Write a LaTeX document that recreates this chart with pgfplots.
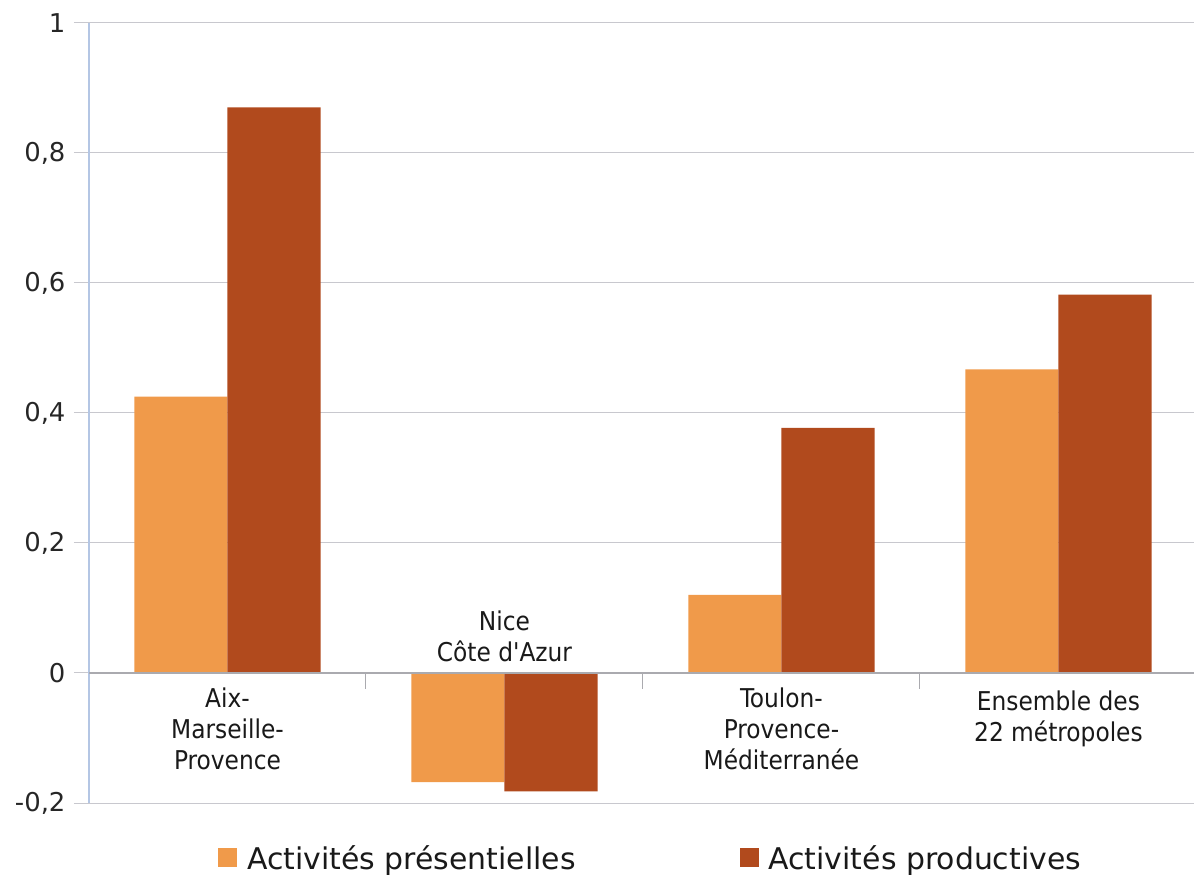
\documentclass[border=0pt]{standalone}
\usepackage{pgfplots}
\pgfplotsset{compat=1.18}
\usepackage{fontspec}
\setmainfont{DejaVu Sans}
\newfontfamily\condfont{DejaVu Sans Condensed}
\definecolor{cpres}{RGB}{240,154,74}
\definecolor{cprod}{RGB}{177,74,29}
\definecolor{gridc}{RGB}{200,200,206}
\definecolor{axc}{RGB}{180,198,228}
\definecolor{zeroc}{RGB}{170,170,175}
\begin{document}
\begin{tikzpicture}
\begin{axis}[name=ax, scale only axis, width=1108bp, height=780bp,
  xmin=-0.5, xmax=3.5, ymin=-0.2, ymax=1, clip=false,
  axis line style={draw=none},
  xtick=\empty, ytick pos=left,
  ytick={-0.2,0,0.2,0.4,0.6,0.8,1},
  ymajorgrids, grid style={gridc, line width=1bp},
  major tick length=0bp,
  /pgf/number format/use comma, /pgf/number format/fixed,
  /pgf/number format/assume math mode=true,
  yticklabel style={font=\fontsize{26}{31}\selectfont, text=black!85, xshift=-20bp},
  legend columns=2,
  legend style={at={(0.1164,-0.0705)}, anchor=west, draw=none, fill=none,
    font=\fontsize{30}{36}\selectfont, inner sep=0pt,
    nodes={inner sep=0pt, anchor=west, text=black!90},
    /tikz/every odd column/.append style={column sep=10bp},
    /tikz/every even column/.append style={column sep=164bp}},
  legend image code/.code={\fill[#1] (0bp,-9.5bp) rectangle (19bp,9.5bp);},
]
\addplot[ybar, bar width=0.336, bar shift=-0.168, fill=cpres, draw=none]
  coordinates {(0,0.425) (1,-0.168) (2,0.120) (3,0.467)};
\addlegendentry{Activités présentielles}
\addplot[ybar, bar width=0.336, bar shift=0.168, fill=cprod, draw=none]
  coordinates {(0,0.870) (1,-0.182) (2,0.377) (3,0.582)};
\addlegendentry{Activités productives}
\draw[gridc, line width=1bp] ([xshift=-15bp]axis cs:-0.5,-0.2) -- (axis cs:-0.5,-0.2);
\draw[gridc, line width=1bp] ([xshift=-15bp]axis cs:-0.5,0) -- (axis cs:-0.5,0);
\draw[gridc, line width=1bp] ([xshift=-15bp]axis cs:-0.5,0.2) -- (axis cs:-0.5,0.2);
\draw[gridc, line width=1bp] ([xshift=-15bp]axis cs:-0.5,0.4) -- (axis cs:-0.5,0.4);
\draw[gridc, line width=1bp] ([xshift=-15bp]axis cs:-0.5,0.6) -- (axis cs:-0.5,0.6);
\draw[gridc, line width=1bp] ([xshift=-15bp]axis cs:-0.5,0.8) -- (axis cs:-0.5,0.8);
\draw[gridc, line width=1bp] ([xshift=-15bp]axis cs:-0.5,1) -- (axis cs:-0.5,1);
\draw[axc, line width=1.3bp] (rel axis cs:0,0) -- (rel axis cs:0,1);
\draw[zeroc, line width=1.2bp] (axis cs:-0.5,0) -- (axis cs:3.5,0);
\draw[zeroc, line width=1bp] (axis cs:0.5,0) -- ([yshift=-16bp]axis cs:0.5,0);
\draw[zeroc, line width=1bp] (axis cs:1.5,0) -- ([yshift=-16bp]axis cs:1.5,0);
\draw[zeroc, line width=1bp] (axis cs:2.5,0) -- ([yshift=-16bp]axis cs:2.5,0);
\node[anchor=north, font=\condfont\fontsize{26}{31}\selectfont, align=center, inner sep=0pt, text=black!90] at ([yshift=-15bp]axis cs:0,0) {Aix-\\Marseille-\\Provence};
\node[anchor=south, font=\condfont\fontsize{26}{31}\selectfont, align=center, inner sep=0pt, text=black!90] at ([yshift=11bp]axis cs:1,0) {Nice\\Côte d'Azur};
\node[anchor=north, font=\condfont\fontsize{26}{31}\selectfont, align=center, inner sep=0pt, text=black!90] at ([yshift=-15bp]axis cs:2,0) {Toulon-\\Provence-\\Méditerranée};
\node[anchor=north, font=\condfont\fontsize{26}{31}\selectfont, align=center, inner sep=0pt, text=black!90] at ([yshift=-18bp]axis cs:3,0) {Ensemble des\\22 métropoles};
\end{axis}
\pgfresetboundingbox
\path[use as bounding box] ([shift={(-89bp,-72bp)}]ax.south west) rectangle ([shift={(1105bp,803bp)}]ax.south west);
\end{tikzpicture}
\end{document}
